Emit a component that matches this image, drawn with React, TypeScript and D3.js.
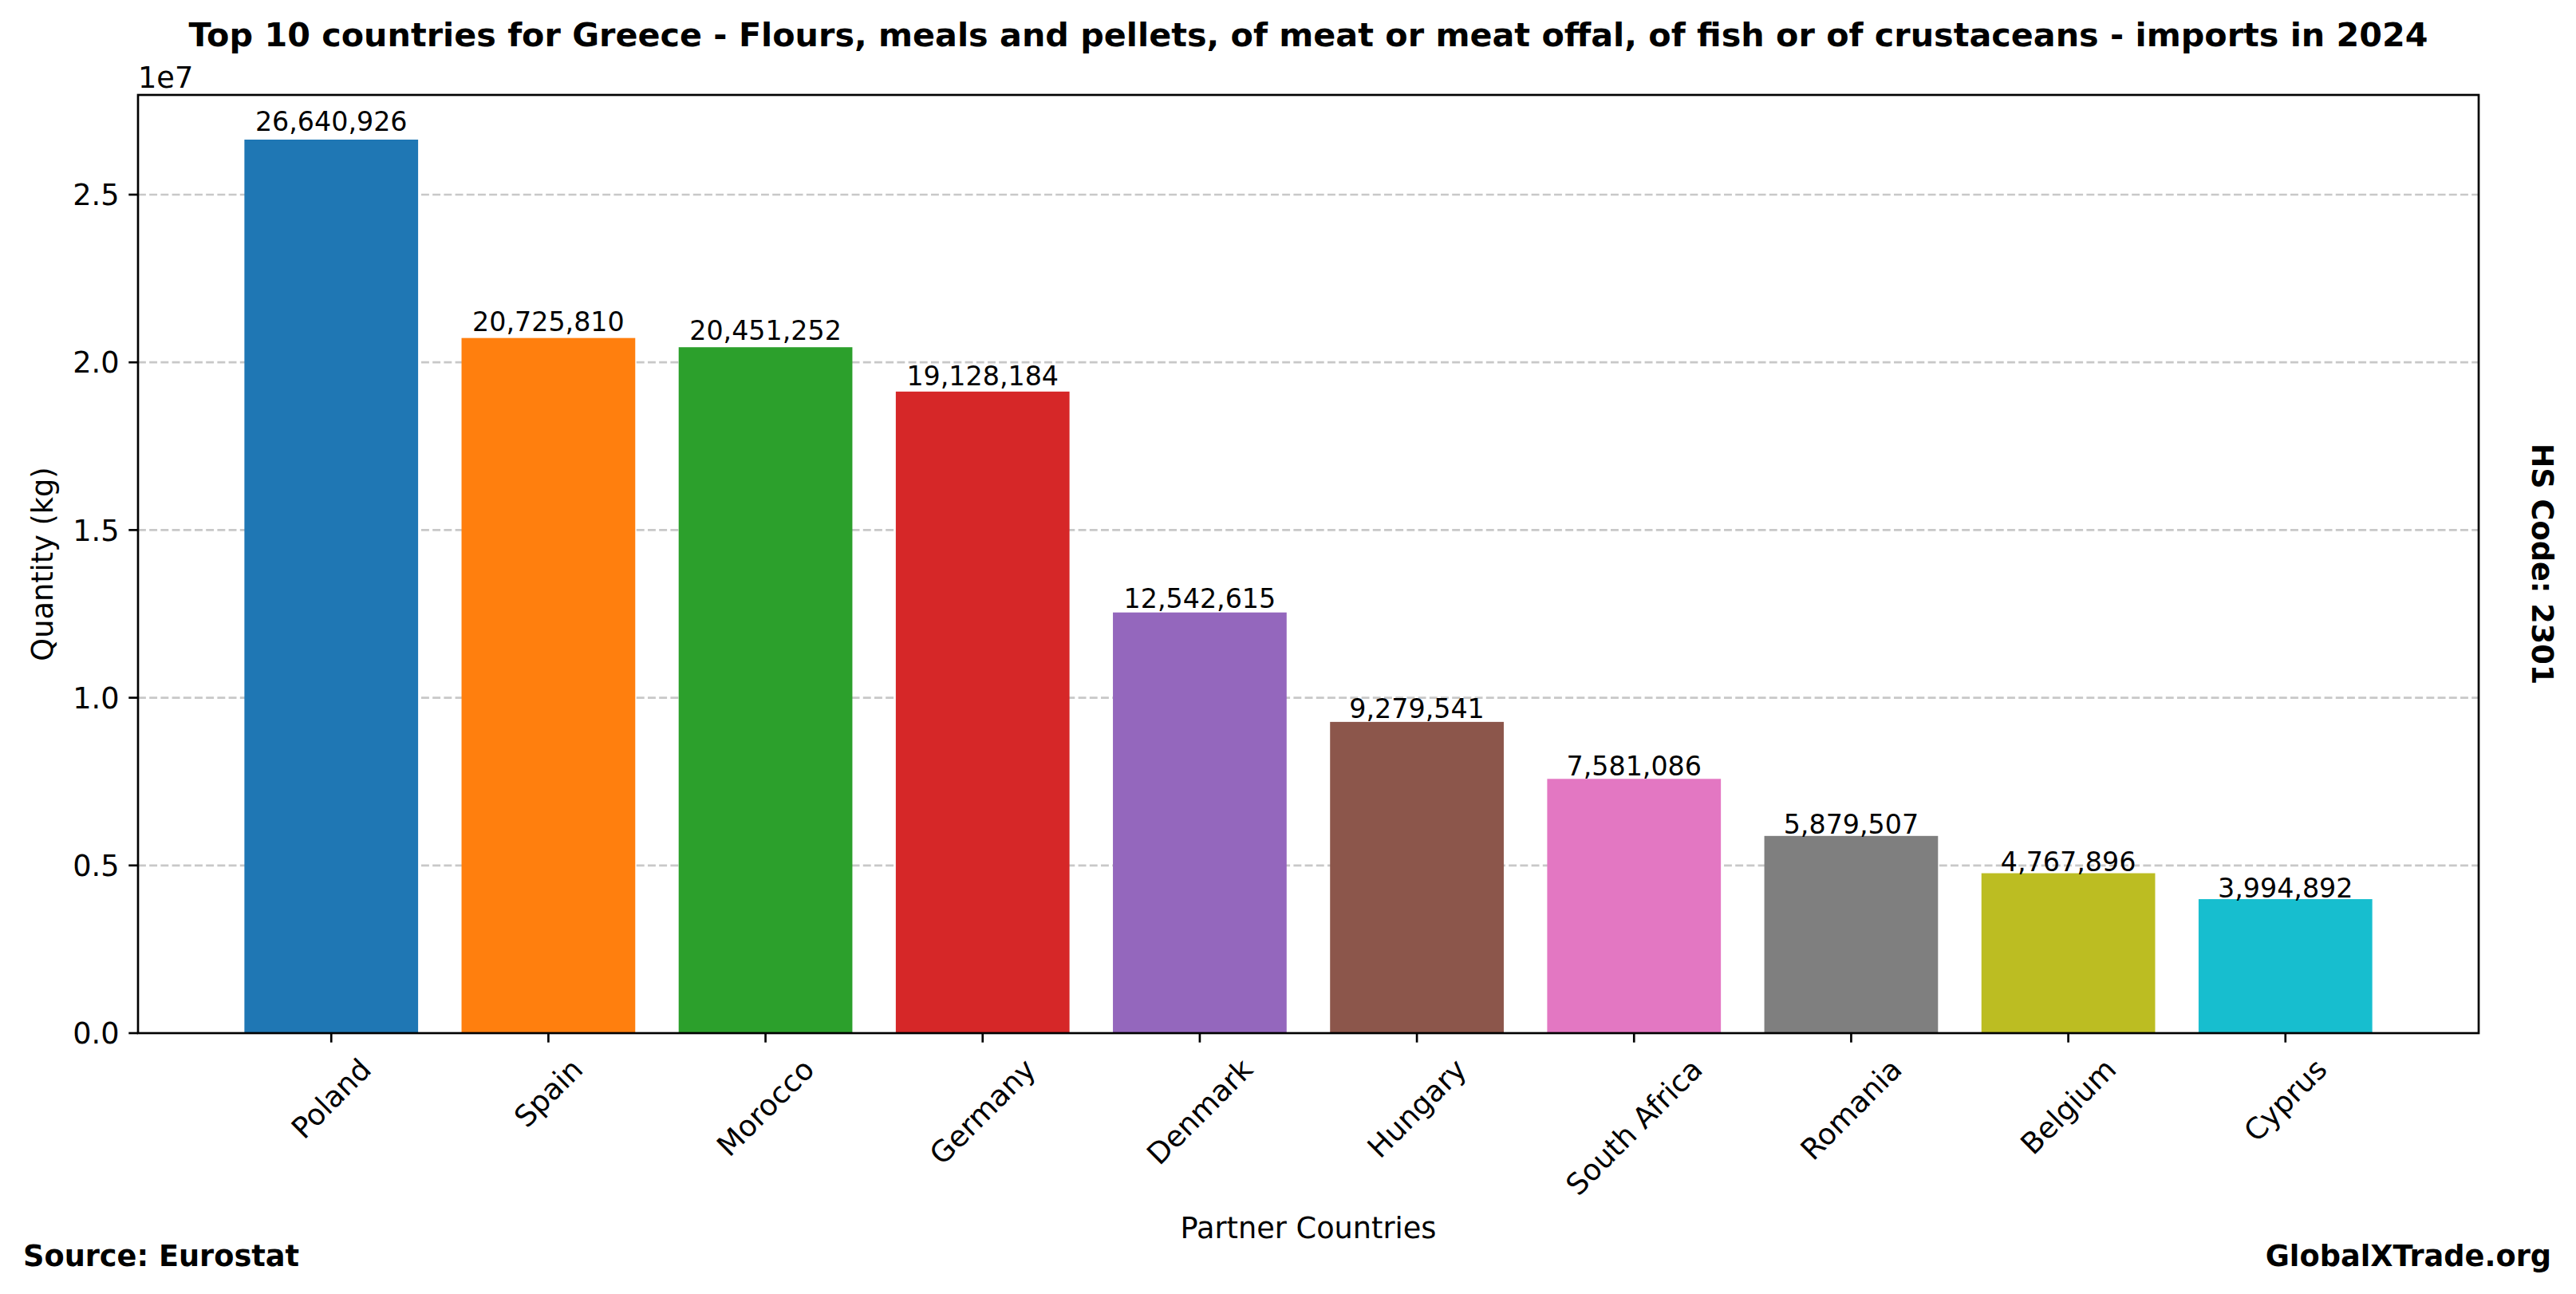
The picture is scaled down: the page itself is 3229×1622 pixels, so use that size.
import * as d3 from "d3";
import { useMemo } from "react";

const countries = ["Poland", "Spain", "Morocco", "Germany", "Denmark", "Hungary", "South Africa", "Romania", "Belgium", "Cyprus"];
const quantities = [26640926, 20725810, 20451252, 19128184, 12542615, 9279541, 7581086, 5879507, 4767896, 3994892];
const yTickValues = [0, 5e6, 10e6, 15e6, 20e6, 25e6];
const barColors = d3.schemeCategory10;

const titleText = "Top 10 countries for Greece - Flours, meals and pellets, of meat or meat offal, of fish or of crustaceans - imports in 2024";

const width = 3229;
const height = 1622;
const plot = { left: 173, right: 3107, top: 119, bottom: 1295 };

const font = "DejaVu Sans, Liberation Sans, sans-serif";
const valueSize = 33.3;
const tickSize = 36.7;
const labelSize = 36.7;
const titleSize = 41.3;
const tickLen = 11.7;

function measure(text: string, size: number) {
  const canvas = document.createElement("canvas");
  const ctx = canvas.getContext("2d");
  if (!ctx) return text.length * size * 0.6;
  ctx.font = `${size}px "DejaVu Sans"`;
  return ctx.measureText(text).width;
}

export default function App() {
  const xScale = useMemo(
    () => d3.scaleLinear().domain([-0.89, countries.length - 1 + 0.89]).range([plot.left, plot.right]),
    []
  );
  const yScale = useMemo(
    () => d3.scaleLinear().domain([0, (d3.max(quantities) ?? 1) * 1.05]).range([plot.bottom, plot.top]),
    []
  );
  const labelWidths = useMemo(() => countries.map((c) => measure(c, tickSize)), []);
  const fmt = d3.format(",");
  const tickFmt = d3.format(".1f");
  const labelTop = plot.bottom + tickLen + 12;
  const textH = 1.164 * tickSize;

  return (
    <svg
      width={width}
      height={height}
      viewBox={`0 0 ${width} ${height}`}
      style={{ position: "absolute", left: 0, top: 0, background: "#fff" }}
      fontFamily={font}
    >
      <rect x={0} y={0} width={width} height={height} fill="#fff" />

      {/* grid */}
      {yTickValues.slice(1).map((t) => (
        <line
          key={`g-${t}`}
          x1={plot.left}
          x2={plot.right}
          y1={yScale(t)}
          y2={yScale(t)}
          stroke="#c8c8c8"
          strokeWidth={2.67}
          strokeDasharray="9.9 4.3"
        />
      ))}

      {/* bars */}
      {quantities.map((v, i) => (
        <rect
          key={countries[i]}
          x={xScale(i - 0.4)}
          y={yScale(v)}
          width={xScale(i + 0.4) - xScale(i - 0.4)}
          height={yScale(0) - yScale(v)}
          fill={barColors[i % 10]}
        />
      ))}

      {/* value labels */}
      {quantities.map((v, i) => (
        <text
          key={`v-${countries[i]}`}
          x={xScale(i)}
          y={yScale(v * 1.009) - 1}
          textAnchor="middle"
          fontSize={valueSize}
          fill="#000"
        >
          {fmt(v)}
        </text>
      ))}

      {/* spines */}
      <rect
        x={plot.left}
        y={plot.top}
        width={plot.right - plot.left}
        height={plot.bottom - plot.top}
        fill="none"
        stroke="#000"
        strokeWidth={2.67}
      />

      {/* y ticks */}
      {yTickValues.map((t) => (
        <g key={`y-${t}`} transform={`translate(${plot.left}, ${yScale(t)})`}>
          <line x1={-tickLen} x2={0} stroke="#000" strokeWidth={2.67} />
          <text x={-tickLen - 11.7} dy="0.36em" textAnchor="end" fontSize={tickSize} fill="#000">
            {tickFmt(t / 1e7)}
          </text>
        </g>
      ))}
      <text x={plot.left} y={110} fontSize={tickSize} fill="#000">
        1e7
      </text>

      {/* x ticks */}
      {countries.map((c, i) => {
        const half = (labelWidths[i] + textH) / Math.SQRT2 / 2;
        return (
          <g key={`x-${c}`}>
            <line
              x1={xScale(i)}
              x2={xScale(i)}
              y1={plot.bottom}
              y2={plot.bottom + tickLen}
              stroke="#000"
              strokeWidth={2.67}
            />
            <text
              transform={`translate(${xScale(i)}, ${labelTop + half}) rotate(-45)`}
              textAnchor="middle"
              dy="0.346em"
              fontSize={tickSize}
              fill="#000"
            >
              {c}
            </text>
          </g>
        );
      })}

      {/* axis labels */}
      <text x={(plot.left + plot.right) / 2} y={1552} textAnchor="middle" fontSize={labelSize} fill="#000">
        Partner Countries
      </text>
      <text
        transform={`translate(66, ${(plot.top + plot.bottom) / 2}) rotate(-90)`}
        textAnchor="middle"
        fontSize={labelSize}
        fill="#000"
      >
        Quantity (kg)
      </text>

      {/* title */}
      <text
        x={(plot.left + plot.right) / 2}
        y={58}
        textAnchor="middle"
        fontSize={titleSize}
        fontWeight="bold"
        fill="#000"
      >
        {titleText}
      </text>

      {/* annotations */}
      <text
        transform={`translate(3174, ${(plot.top + plot.bottom) / 2}) rotate(90)`}
        textAnchor="middle"
        fontSize={labelSize}
        fontWeight="bold"
        fill="#000"
      >
        HS Code: 2301
      </text>
      <text x={29} y={1587} fontSize={labelSize} fontWeight="bold" fill="#000">
        Source: Eurostat
      </text>
      <text x={3198} y={1587} textAnchor="end" fontSize={labelSize} fontWeight="bold" fill="#000">
        GlobalXTrade.org
      </text>
    </svg>
  );
}
